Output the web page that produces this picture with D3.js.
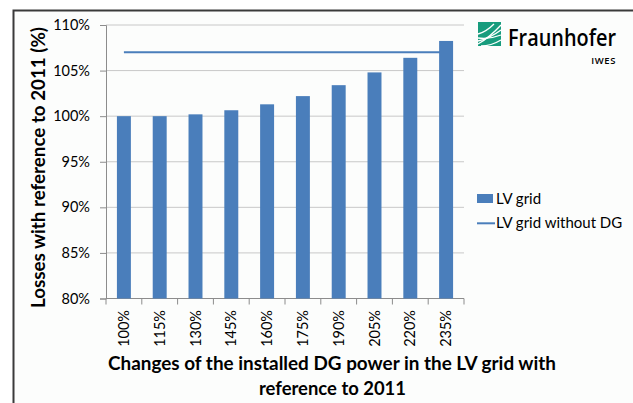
<!DOCTYPE html>
<html>
<head>
<meta charset="utf-8">
<script src="https://cdn.jsdelivr.net/npm/d3@7"></script>
<style>
  body { margin: 0; background: #fff; }
  svg text { font-family: Lato, "Open Sans", sans-serif; fill: #000; }
</style>
</head>
<body>
<svg id="chart" width="633" height="403"></svg>
<script>
// values
const categories = ["100%", "115%", "130%", "145%", "160%", "175%", "190%", "205%", "220%", "235%"];
const lvGrid = [1.000, 1.000, 1.002, 1.0065, 1.013, 1.022, 1.034, 1.048, 1.064, 1.0825];
const lvGridWithoutDG = [1.07, 1.07, 1.07, 1.07, 1.07, 1.07, 1.07, 1.07, 1.07, 1.07];
const yTicks = [0.80, 0.85, 0.90, 0.95, 1.00, 1.05, 1.10];
const legendLabels = ["LV grid", "LV grid without DG"];

const blue = "#4a7ebb";
const svg = d3.select("#chart");

// frame
svg.append("rect").attr("x", 14).attr("y", 11).attr("width", 640).attr("height", 400)
  .attr("fill", "#fcfdfc");
svg.append("path").attr("d", "M13.5,403 V10.5 H633")
  .attr("fill", "none").attr("stroke", "#3a3a3a").attr("stroke-width", 2);

const plot = { left: 106, right: 464, top: 25, bottom: 298.5 };

const x = d3.scaleBand().domain(categories).range([plot.left, plot.right]).padding(0);
const y = d3.scaleLinear().domain([0.8, 1.1]).range([plot.bottom, plot.top]);

// gridlines
svg.append("g").selectAll("line").data(yTicks).join("line")
  .attr("x1", plot.left).attr("x2", plot.right)
  .attr("y1", d => y(d)).attr("y2", d => y(d))
  .attr("stroke", "#c8c8c8").attr("stroke-width", 1);

// y axis
const yAxis = svg.append("g").attr("transform", `translate(${plot.left},0)`)
  .call(d3.axisLeft(y).tickValues(yTicks).tickFormat(d3.format(".0%")).tickSize(6).tickPadding(10));
yAxis.select(".domain").attr("stroke", "#8c8c8c");
yAxis.selectAll(".tick line").attr("stroke", "#8c8c8c");
yAxis.selectAll("text").attr("font-family", null).style("font-size", "14.5px").attr("fill", "#111");

// x axis line and boundary ticks
svg.append("line").attr("x1", plot.left).attr("x2", plot.right)
  .attr("y1", plot.bottom).attr("y2", plot.bottom).attr("stroke", "#8c8c8c");
const bounds = categories.map(c => x(c)).concat([x.range()[1]]);
svg.append("g").selectAll("line").data(bounds).join("line")
  .attr("x1", d => d).attr("x2", d => d)
  .attr("y1", plot.bottom).attr("y2", plot.bottom + 6)
  .attr("stroke", "#8c8c8c");

// x tick labels (rotated)
svg.append("g").selectAll("text").data(categories).join("text")
  .attr("transform", d => `translate(${x(d) + x.bandwidth() / 2},310) rotate(-90)`)
  .attr("text-anchor", "end").attr("dy", "0.35em")
  .style("font-size", "14.5px").attr("fill", "#111")
  .text(d => d);

// line series (drawn under the bars)
svg.append("path").datum(lvGridWithoutDG)
  .attr("fill", "none").attr("stroke", blue).attr("stroke-width", 2)
  .attr("d", d3.line().x((d, i) => x(categories[i]) + x.bandwidth() / 2).y(d => y(d)));

// bars
const barW = x.bandwidth() * 0.39;
svg.append("g").selectAll("rect").data(lvGrid).join("rect")
  .attr("x", (d, i) => x(categories[i]) + (x.bandwidth() - barW) / 2)
  .attr("y", d => y(d))
  .attr("width", barW)
  .attr("height", d => y(0.8) - y(d))
  .attr("fill", blue);

// axis titles
svg.append("text")
  .attr("transform", "translate(44.5,167.5) rotate(-90)")
  .attr("text-anchor", "middle")
  .attr("textLength", 281).attr("lengthAdjust", "spacingAndGlyphs")
  .style("font-size", "18px").style("font-weight", "bold")
  .text("Losses with reference to 2011 (%)");

svg.append("text").attr("x", 332).attr("y", 370)
  .attr("text-anchor", "middle")
  .attr("textLength", 448).attr("lengthAdjust", "spacingAndGlyphs")
  .style("font-size", "18.5px").style("font-weight", "bold")
  .text("Changes of the installed DG power in the LV grid with");
svg.append("text").attr("x", 332.5).attr("y", 395)
  .attr("text-anchor", "middle")
  .attr("textLength", 147).attr("lengthAdjust", "spacingAndGlyphs")
  .style("font-size", "18.5px").style("font-weight", "bold")
  .text("reference to 2011");

// legend
const legend = svg.append("g").attr("transform", "translate(477,0)");
legend.append("rect").attr("x", 0).attr("y", 194).attr("width", 16).attr("height", 9).attr("fill", blue);
legend.append("line").attr("x1", 0).attr("x2", 18).attr("y1", 223.3).attr("y2", 223.3)
  .attr("stroke", blue).attr("stroke-width", 2);
legend.selectAll("text").data(legendLabels).join("text")
  .attr("x", 19).attr("y", (d, i) => i === 0 ? 199 : 223)
  .attr("dy", "0.35em").style("font-size", "15px").attr("fill", "#111")
  .text(d => d);

// Fraunhofer logo
const logo = svg.append("g").attr("transform", "translate(478,22)");
logo.append("rect").attr("width", 23).attr("height", 24).attr("fill", "#179c7d");
[[0, 22, 23, 3], [0, 19, 23, 8], [0, 16, 23, 13], [3, 24, 23, 18], [0, 12, 16, 2]].forEach(p => {
  logo.append("path")
    .attr("d", `M${p[0]},${p[1]} Q${(p[0] + p[2]) / 2},${(p[1] + p[3]) / 2 + 3} ${p[2]},${p[3]}`)
    .attr("fill", "none").attr("stroke", "#fff").attr("stroke-width", 1.3);
});
svg.append("text").attr("x", 508).attr("y", 46)
  .attr("textLength", 108).attr("lengthAdjust", "spacingAndGlyphs")
  .style("font-family", "'Open Sans', sans-serif").style("font-size", "23px").style("font-weight", "600")
  .attr("fill", "#1a1a1a")
  .text("Fraunhofer");
svg.append("text").attr("x", 616).attr("y", 64).attr("text-anchor", "end")
  .style("font-family", "'Open Sans', sans-serif").style("font-size", "9.5px").style("font-weight", "600")
  .style("letter-spacing", "0.6px")
  .attr("fill", "#1a1a1a")
  .text("IWES");
</script>
</body>
</html>
